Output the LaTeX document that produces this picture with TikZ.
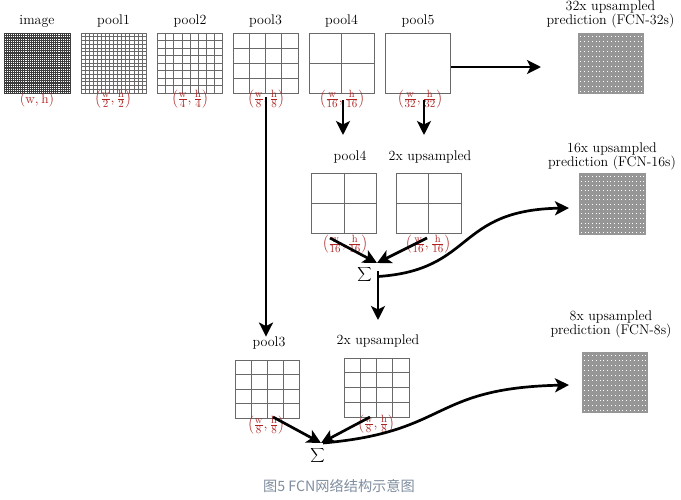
\documentclass[tikz,border=0pt]{standalone}
\usepackage{fontspec}
\newfontfamily\cjkfont{Noto Sans CJK SC}
\usetikzlibrary{arrows.meta,calc}
\definecolor{fraccol}{RGB}{175,35,35}
\definecolor{capcol}{RGB}{128,142,160}
\definecolor{gridcol}{RGB}{105,105,105}
\definecolor{densecol}{RGB}{60,60,60}
\definecolor{predcol}{RGB}{150,150,150}
\newcommand\gridlines[1]{%
  \pgfmathtruncatemacro\gm{#1-1}%
  \foreach \k in {1,...,\gm}{%
    \draw[gl] ($(path picture bounding box.south west)!{\k/#1}!(path picture bounding box.south east)$) --
              ($(path picture bounding box.north west)!{\k/#1}!(path picture bounding box.north east)$);
    \draw[gl] ($(path picture bounding box.south west)!{\k/#1}!(path picture bounding box.north west)$) --
              ($(path picture bounding box.south east)!{\k/#1}!(path picture bounding box.north east)$);
  }}
\newcommand\fracpair[2]{$\left(\frac{\mathrm{w}}{#1},\frac{\mathrm{h}}{#2}\right)$}
\tikzset{
  gl/.style={gridcol, line width=0.6pt},
  plainbox/.style={draw=gridcol, line width=0.7pt, inner sep=0pt, outer sep=0pt,
    minimum width=65pt, minimum height=60pt},
  gridbox/.style={plainbox, path picture={\gridlines{#1}}},
  densegrid/.style={gl/.style={densecol, line width=0.26pt}, draw=densecol},
  predgrid/.style={gl/.style={predcol, line width=0.25pt}, draw=predcol},
  lab/.style={font=\fontsize{14}{15}\selectfont, anchor=base, inner sep=0pt},
  twolab/.style={font=\fontsize{14}{14}\selectfont, align=center, anchor=south, inner sep=0pt},
  fraclab/.style={font=\fontsize{15}{17}\selectfont, text=fraccol, inner sep=0pt},
  pairlab/.style={font=\fontsize{13.5}{15}\selectfont, text=fraccol, inner sep=0pt},
  sumlab/.style={font=\fontsize{10}{12}\selectfont, inner sep=0pt},
  arr/.style={line width=2.7pt, -{Stealth[length=14pt,width=14pt,inset=3.5pt]}}
}
\begin{document}
\begin{tikzpicture}[x=1pt,y=-1pt]
\fill[white] (0,0) rectangle (681,500);
\useasboundingbox (0,0) rectangle (681,500);

% top row grids
\node[gridbox=32, densegrid, minimum width=66pt] (img) at (37,63) {};
\node[gridbox=16] (p1) at (113.5,63) {};
\node[gridbox=8] (p2) at (190,63) {};
\node[gridbox=4] (p3) at (265.5,63) {};
\node[gridbox=2] (p4) at (341.5,63) {};
\node[plainbox] (p5) at (418,63) {};
\node[gridbox=48, predgrid] (pr32) at (610.5,63) {};

% top labels
\node[lab] (limg) at (37,25) {image};
\node[lab] (lp1) at (113.5,25) {pool1};
\node[lab] (lp2) at (190,25) {pool2};
\node[lab] (lp3) at (265.5,25) {pool3};
\node[lab] (lp4) at (341.5,25) {pool4};
\node[lab] (lp5) at (418,25) {pool5};
\node[twolab] (lpr32) at (610.5,28.5) {32x upsampled\\prediction (FCN-32s)};

% top fractions
\node[pairlab] (fimg) at (37,100) {$(\mathrm{w},\mathrm{h})$};
\node[fraclab] (fp1) at (113,99) {\fracpair{2}{2}};
\node[fraclab] (fp2) at (190,99) {\fracpair{4}{4}};
\node[fraclab] (fp3) at (266,99) {\fracpair{8}{8}};
\node[fraclab] (fp4) at (342,99) {\fracpair{16}{16}};
\node[fraclab] (fp5) at (420,99) {\fracpair{32}{32}};

% middle row
\node[gridbox=2] (mp4) at (344,203.5) {};
\node[gridbox=2] (mup) at (428.5,203.5) {};
\node[gridbox=48, predgrid, minimum width=66pt, minimum height=61pt] (pr16) at (612,203.5) {};
\node[lab] (lmp4) at (350,161) {pool4};
\node[lab] (lmup) at (430,161) {2x upsampled};
\node[twolab] (lpr16) at (612,170) {16x upsampled\\prediction (FCN-16s)};
\node[fraclab] (fmp4) at (345,244) {\fracpair{16}{16}};
\node[fraclab] (fmup) at (428,244) {\fracpair{16}{16}};
\node[sumlab] (sig1) at (364.5,275) {$\displaystyle\sum$};

% bottom row
\node[gridbox=4, minimum width=64pt, minimum height=58pt] (bp3) at (267,389) {};
\node[gridbox=4, minimum height=59pt] (bup) at (376.5,387.5) {};
\node[gridbox=48, predgrid] (pr8) at (614.5,382) {};
\node[lab] (lbp3) at (269,346.5) {pool3};
\node[lab] (lbup) at (378,344) {2x upsampled};
\node[twolab] (lpr8) at (611,338.5) {8x upsampled\\prediction (FCN-8s)};
\node[fraclab] (fbp3) at (266,425) {\fracpair{8}{8}};
\node[fraclab] (fbup) at (376,424) {\fracpair{8}{8}};
\node[sumlab] (sig2) at (317.5,455.5) {$\displaystyle\sum$};

% connector coordinates
\coordinate (a3s) at (266,97);
\coordinate (a4s) at (343,100);
\coordinate (a4e) at (343,135);
\coordinate (a5s) at (424,100);
\coordinate (a5e) at (424,135);
\coordinate (a32s) at (451,67);
\coordinate (a32e) at (541,67);
\coordinate (m1a) at (330,238);
\coordinate (m1b) at (427,238);
\coordinate (m1) at (377,263);
\coordinate (j1) at (378,271);
\coordinate (j1c) at (378,276.5);
\coordinate (d1) at (378,320);
\coordinate (c16) at (569,208);
\coordinate (m2a) at (273,417);
\coordinate (m2b) at (370,417);
\coordinate (m2) at (321,443);
\coordinate (m2c) at (323,443);
\coordinate (c8) at (569,385);

% connectors
\draw[arr] (a3s) -- (a3s |- lbp3.north);
\draw[arr] (a4s) -- (a4e);
\draw[arr] (a5s) -- (a5e);
\draw[arr] (a32s) -- (a32e);
\draw[arr] (m1a) -- (m1);
\draw[arr] (m1b) -- (m1);
\draw[arr] (j1) -- (d1);
\draw[arr] (j1c) .. controls (475,270) and (455,210) .. (c16);
\draw[arr] (m2a) -- (m2);
\draw[arr] (m2b) -- (m2);
\draw[arr] (m2c) .. controls (450,432) and (430,388) .. (c8);

% caption
\node[font=\cjkfont\fontsize{14.2}{16}\selectfont, text=capcol, inner sep=0pt] (cap) at (339,486) {图5 FCN网络结构示意图};
\end{tikzpicture}
\end{document}
